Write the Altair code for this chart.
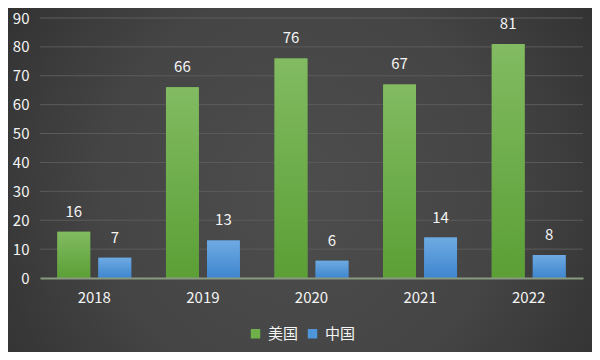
import altair as alt
import pandas as pd

years = ["2018", "2019", "2020", "2021", "2022"]
series = ["美国", "中国"]
usa = [16, 66, 76, 67, 81]
china = [7, 13, 6, 14, 8]
y_ticks = [0, 10, 20, 30, 40, 50, 60, 70, 80, 90]

rows = []
for i, y in enumerate(years):
    rows.append({"year": y, "series": "美国", "value": usa[i]})
    rows.append({"year": y, "series": "中国", "value": china[i]})
df = pd.DataFrame(rows)

W, H = 543, 260
PAD_L, PAD_T, PAD_R, PAD_B = 32, 10, 9, 74
FONT = "Noto Sans CJK SC"
TXT = "#f4f4f4"

green_grad = alt.Gradient(gradient="linear", x1=0, y1=0, x2=0, y2=1,
                          stops=[alt.GradientStop(color="#82bb62", offset=0),
                                 alt.GradientStop(color="#5b9f35", offset=1)])
blue_grad = alt.Gradient(gradient="linear", x1=0, y1=0, x2=0, y2=1,
                         stops=[alt.GradientStop(color="#6eaae2", offset=0),
                                alt.GradientStop(color="#3e86cf", offset=1)])
bg_grad = alt.Gradient(gradient="radial", x1=0.5, y1=0.52, x2=0.5, y2=0.52, r1=0, r2=0.75,
                       stops=[alt.GradientStop(color="#4d4d4d", offset=0),
                              alt.GradientStop(color="#454545", offset=0.45),
                              alt.GradientStop(color="#272727", offset=1)])

x_enc = alt.X("year:N", sort=years, title=None,
              scale=alt.Scale(paddingInner=0.32, paddingOuter=0.16),
              axis=alt.Axis(labelAngle=0, labelColor=TXT, labelFont=FONT, labelFontSize=15,
                            labelPadding=12, ticks=False, domainColor="#8a9a82", domainWidth=2,
                            grid=False, zindex=1))
xo_enc = alt.XOffset("series:N", sort=series,
                     scale=alt.Scale(domain=series, paddingInner=0.2, paddingOuter=0))
y_scale = alt.Scale(domain=[0, 90], nice=False)
y_axis = alt.Axis(values=y_ticks, labelColor=TXT, labelFont=FONT, labelFontSize=15,
                  labelPadding=11, ticks=False, domain=False, grid=False, zindex=1,
                  labelOverlap=False, labelBound=False, labelFlush=False)
y_enc = alt.Y("value:Q", title=None, scale=y_scale, axis=y_axis)

bg = alt.Chart(pd.DataFrame({"a": [0]})).mark_rect(color=bg_grad).encode(
    x=alt.value(-PAD_L), x2=alt.value(W + PAD_R),
    y=alt.value(-PAD_T), y2=alt.value(H + PAD_B))

grid = alt.Chart(pd.DataFrame({"value": y_ticks[1:]})).mark_rule(color="#5c5c5c", strokeWidth=1).encode(
    y=y_enc, x=alt.value(0), x2=alt.value(W))

base = alt.Chart(df)

legend_bars = base.mark_bar().encode(
    x=x_enc, xOffset=xo_enc, y=y_enc,
    color=alt.Color("series:N", sort=series,
                    scale=alt.Scale(domain=series, range=["#6fb04a", "#4f95da"]),
                    legend=alt.Legend(title=None, orient="none", legendX=208, legendY=308,
                                      direction="horizontal", symbolType="square",
                                      symbolSize=90, symbolStrokeWidth=0,
                                      labelColor=TXT, labelFont=FONT, labelFontSize=15,
                                      columnPadding=6, labelOffset=5)))

g_bars = base.transform_filter(alt.datum.series == "美国").mark_bar(color=green_grad).encode(
    x=x_enc, xOffset=xo_enc, y=y_enc)
b_bars = base.transform_filter(alt.datum.series == "中国").mark_bar(color=blue_grad).encode(
    x=x_enc, xOffset=xo_enc, y=y_enc)

labels = base.mark_text(color=TXT, font=FONT, fontSize=15, baseline="middle", dy=-20).encode(
    x=x_enc, xOffset=xo_enc, y=y_enc, text="value:Q")

chart = alt.layer(bg, grid, legend_bars, g_bars, b_bars, labels).properties(
    width=W, height=H,
    autosize=alt.AutoSizeParams(type="none"),
    padding={"left": PAD_L, "top": PAD_T, "right": PAD_R, "bottom": PAD_B},
    background="#3a3a3a",
).configure_view(stroke=None)

chart.save("out.html", embed_options={"renderer": "svg", "actions": False})
